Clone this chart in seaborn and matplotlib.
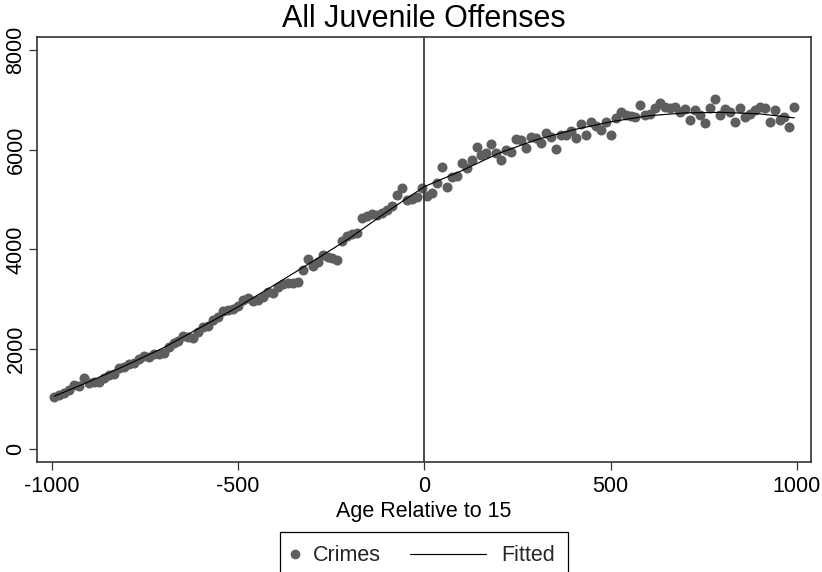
import numpy as np
import pandas as pd
import matplotlib
matplotlib.use("Agg")
import matplotlib.pyplot as plt
import seaborn as sns
from matplotlib.legend_handler import HandlerLine2D
from matplotlib.lines import Line2D

# Binned offense counts by age in days relative to the 15th birthday
n_bins = 150
bin_width = 2000 / n_bins
age_days = -1000 + bin_width / 2 + bin_width * np.arange(n_bins)

crimes = [
    # -993 .. -500
    1050, 1090, 1120, 1180, 1290, 1260, 1420, 1330, 1340, 1350,
    1420, 1480, 1510, 1620, 1640, 1700, 1720, 1800, 1870, 1840,
    1910, 1900, 1930, 2050, 2130, 2170, 2260, 2250, 2230, 2340,
    2440, 2460, 2590, 2650, 2760, 2780, 2800, 2860,
    # -487 .. -7
    2980, 3030, 2960, 2990, 3040, 3140, 3130, 3240, 3300, 3320,
    3330, 3340, 3580, 3800, 3660, 3750, 3880, 3850, 3820, 3780,
    4170, 4280, 4310, 4330, 4640, 4680, 4720, 4690, 4730, 4800,
    4880, 5100, 5240, 5000, 5010, 5050, 5230,
    # 7 .. 500
    5080, 5130, 5330, 5660, 5260, 5450, 5470, 5740, 5640, 5790,
    6060, 5890, 5940, 6120, 5940, 5800, 5990, 5960, 6220, 6200,
    6030, 6260, 6240, 6130, 6330, 6260, 6020, 6300, 6290, 6380,
    6230, 6520, 6290, 6550, 6480, 6400, 6550, 6290,
    # 513 .. 993
    6640, 6750, 6700, 6680, 6650, 6890, 6700, 6720, 6840, 6930,
    6850, 6830, 6860, 6760, 6820, 6590, 6790, 6700, 6530, 6840,
    7020, 6700, 6820, 6760, 6560, 6830, 6660, 6720, 6790, 6850,
    6840, 6550, 6790, 6590, 6650, 6460, 6860,
]

fit_age = [-993, -900, -800, -700, -600, -500, -400, -300, -200, -100, 0,
           100, 200, 300, 400, 500, 600, 700, 800, 900, 993]
fit_vals = [1060, 1350, 1680, 2030, 2440, 2850, 3300, 3760, 4230, 4760, 5260,
            5580, 5930, 6200, 6400, 6560, 6680, 6740, 6750, 6720, 6640]

x_ticks = [-1000, -500, 0, 500, 1000]
y_ticks = [0, 2000, 4000, 6000, 8000]

points = pd.DataFrame({"age": age_days, "crimes": crimes})
fitted = pd.DataFrame({"age": fit_age, "fitted": fit_vals})

sns.set_theme(style="white")
plt.rcParams["font.family"] = ["Liberation Sans", "DejaVu Sans"]
plt.rcParams["axes.unicode_minus"] = False

W, H = 822, 572
fig = plt.figure(figsize=(W / 100, H / 100), dpi=100)
ax = fig.add_axes([37.3 / W, 1 - 461.7 / H, (810.7 - 37.3) / W, (461.7 - 36.7) / H])

dot_color = "#5e5e5e"
sns.scatterplot(data=points, x="age", y="crimes", ax=ax, color=dot_color,
                s=52, linewidth=0, zorder=2, legend=False)
sns.lineplot(data=fitted, x="age", y="fitted", ax=ax, color="black",
             linewidth=0.85, zorder=4, legend=False)
ax.axvline(0, color="#3a3a3a", linewidth=1.3, zorder=3)

ax.set_xlim(-1039, 1037)
ax.set_ylim(-255, 8267)
ax.set_xticks(x_ticks)
ax.set_yticks(y_ticks)
ax.set_xticklabels([str(v) for v in x_ticks])
ax.set_yticklabels([str(v) for v in y_ticks])

for side in ["left", "right", "top", "bottom"]:
    ax.spines[side].set_visible(True)
    ax.spines[side].set_color("#333333")
    ax.spines[side].set_linewidth(1.2)

ax.tick_params(axis="both", which="major", direction="out", length=5.8,
               width=0.9, color="#333333", labelsize=15.5, labelcolor="black")
ax.tick_params(axis="x", pad=4.3, bottom=True)
ax.tick_params(axis="y", pad=2, left=True, labelrotation=90)
plt.setp(ax.get_yticklabels(), va="center")

ax.set_xlabel("Age Relative to 15", fontsize=15.5, color="black", labelpad=3)
ax.set_ylabel("")
ax.set_title("All Juvenile Offenses", fontsize=22, color="black", pad=7)


class LongLineHandler(HandlerLine2D):
    """Line handle that reaches further left than the common handle box."""

    def __init__(self, extra, **kw):
        super().__init__(**kw)
        self.extra = extra

    def create_artists(self, legend, orig_handle, xdescent, ydescent,
                       width, height, fontsize, trans):
        ext = self.extra * fontsize
        return super().create_artists(legend, orig_handle, xdescent + ext,
                                      ydescent, width + ext, height,
                                      fontsize, trans)


h_dot = Line2D([], [], marker="o", linestyle="", color=dot_color,
               markersize=7, markeredgewidth=0)
h_line = Line2D([], [], color="black", linewidth=0.85)
leg = fig.legend([h_dot, h_line], ["Crimes", "Fitted"],
                 loc="upper center", bbox_to_anchor=(424 / W, 1 - 532 / H),
                 ncol=2, frameon=True, fancybox=False, framealpha=1,
                 edgecolor="black", prop={"size": 15.5}, borderpad=0.62,
                 borderaxespad=0, handlelength=0.2, handletextpad=0.72,
                 columnspacing=4.68,
                 handler_map={h_dot: HandlerLine2D(numpoints=1),
                              h_line: LongLineHandler(3.3)})
leg.get_frame().set_linewidth(0.9)

fig.savefig("out.png", dpi=100)
